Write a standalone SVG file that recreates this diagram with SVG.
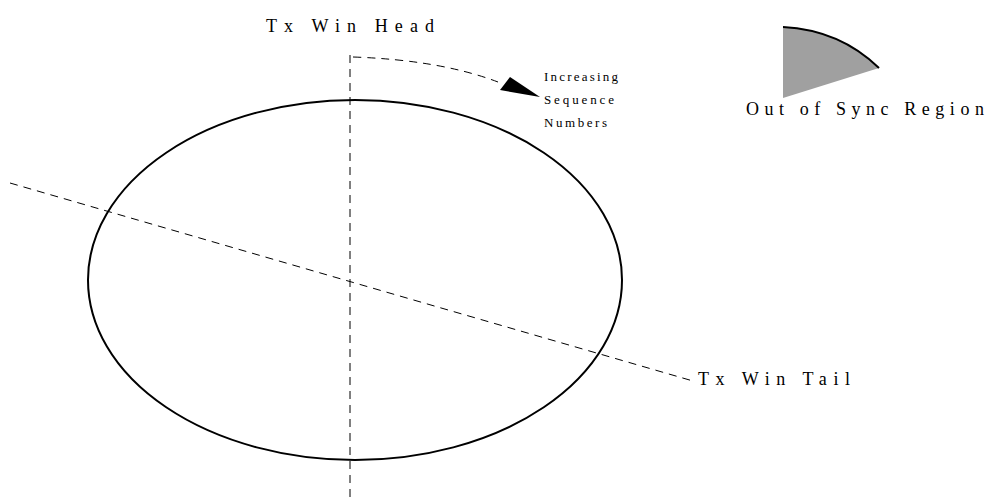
<svg xmlns="http://www.w3.org/2000/svg" width="999" height="499" viewBox="0 0 999 499">
<style>
.lbl{font-family:"Liberation Serif","Times New Roman",serif;fill:#000}
.dash{fill:none;stroke:#000;stroke-width:1;stroke-dasharray:8 6}
.solid{fill:none;stroke:#000;stroke-width:2}
</style>
<rect width="999" height="499" fill="#fff"/>
<g id="ring">
<ellipse class="solid" cx="355" cy="280" rx="267" ry="180"/>
</g>
<g id="connectors">
<line class="dash" x1="350" y1="55" x2="350" y2="499"/>
<line class="dash" x1="10" y1="183" x2="693" y2="381"/>
<path class="dash" d="M353,57 Q440,60 498,82"/>
<polygon points="500,90 510,77 540,97" fill="#000"/>
</g>
<g id="head-label"><text class="lbl" x="266" y="32" font-size="18" textLength="168" lengthAdjust="spacing">Tx Win Head</text></g>
<g id="tail-label"><text class="lbl" x="698" y="385" font-size="18" textLength="152" lengthAdjust="spacing">Tx Win Tail</text></g>
<g id="seq-label">
<text class="lbl" x="544" y="81" font-size="13" textLength="74" lengthAdjust="spacing">Increasing</text>
<text class="lbl" x="544" y="104" font-size="13" textLength="70" lengthAdjust="spacing">Sequence</text>
<text class="lbl" x="544" y="127" font-size="13" textLength="63" lengthAdjust="spacing">Numbers</text>
</g>
<g id="legend">
<path d="M783,27 Q840,30 879,68 L783,98 Z" fill="#a0a0a0"/>
<path d="M783,27 Q840,30 879,68" fill="none" stroke="#000" stroke-width="2"/>
<text class="lbl" x="746" y="115" font-size="18" textLength="238" lengthAdjust="spacing">Out of Sync Region</text>
</g>
</svg>
